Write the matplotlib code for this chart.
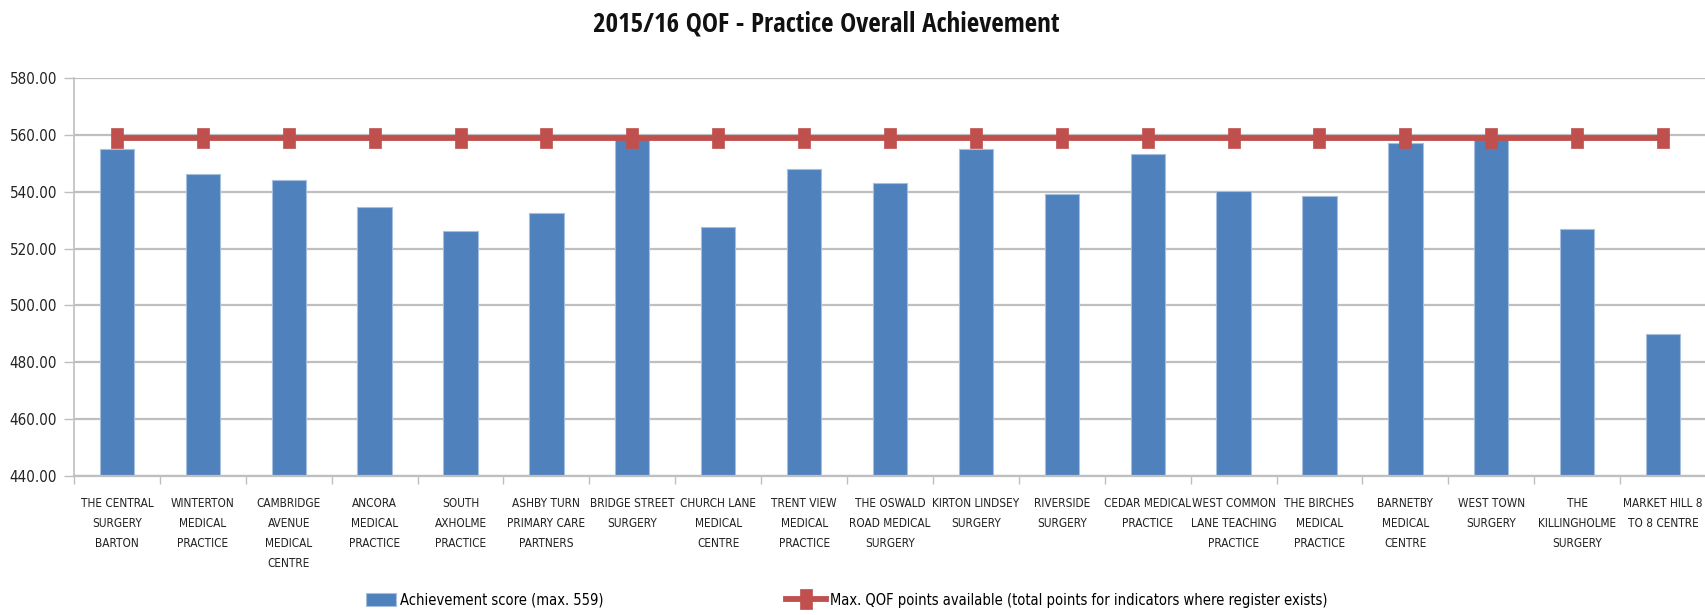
import matplotlib
matplotlib.use("Agg")
import matplotlib.pyplot as plt
import matplotlib.font_manager as fm
from matplotlib.font_manager import FontProperties
import numpy as np
from matplotlib.path import Path
from matplotlib.ticker import FixedLocator, NullFormatter, FormatStrFormatter

practices = [
    "THE CENTRAL\nSURGERY\nBARTON",
    "WINTERTON\nMEDICAL\nPRACTICE",
    "CAMBRIDGE\nAVENUE\nMEDICAL\nCENTRE",
    "ANCORA\nMEDICAL\nPRACTICE",
    "SOUTH\nAXHOLME\nPRACTICE",
    "ASHBY TURN\nPRIMARY CARE\nPARTNERS",
    "BRIDGE STREET\nSURGERY",
    "CHURCH LANE\nMEDICAL\nCENTRE",
    "TRENT VIEW\nMEDICAL\nPRACTICE",
    "THE OSWALD\nROAD MEDICAL\nSURGERY",
    "KIRTON LINDSEY\nSURGERY",
    "RIVERSIDE\nSURGERY",
    "CEDAR MEDICAL\nPRACTICE",
    "WEST COMMON\nLANE TEACHING\nPRACTICE",
    "THE BIRCHES\nMEDICAL\nPRACTICE",
    "BARNETBY\nMEDICAL\nCENTRE",
    "WEST TOWN\nSURGERY",
    "THE\nKILLINGHOLME\nSURGERY",
    "MARKET HILL 8\nTO 8 CENTRE",
]

achievement = [554.9, 546.3, 544.0, 534.6, 526.1, 532.5, 558.5, 527.7, 548.0, 543.2,
               555.2, 539.3, 553.2, 540.2, 538.6, 557.2, 558.5, 527.0, 490.1]

max_points = [559] * len(practices)

title = "2015/16 QOF - Practice Overall Achievement"
bar_label = "Achievement score (max. 559)"
line_label = "Max. QOF points available (total points for indicators where register exists)"
y_ticks = [440, 460, 480, 500, 520, 540, 560, 580]

BLUE = "#4F81BD"
RED = "#C0504D"
GRID = "#BFBFBF"
TXT = "#222222"


# ---- pick a narrow sans font available ----
def _w(e):
    w = e.weight
    if isinstance(w, str):
        w = fm.weight_dict.get(w.lower(), 400)
    return int(w)


def pick_font(bold):
    prefs = ["Liberation Sans Narrow", "Open Sans", "Noto Sans", "DejaVu Sans", "Roboto", "Lato", "Inter"]
    stretch_rank = {"condensed": 0, "semi-condensed": 1, "extra-condensed": 2, "ultra-condensed": 3}
    best = None
    for e in fm.fontManager.ttflist:
        name = e.name
        if any(b in name for b in ("Mono", "Serif", "CJK", "Math")):
            continue
        if e.style != "normal":
            continue
        wt = _w(e)
        if bold and not (600 <= wt <= 800):
            continue
        if not bold and not (350 <= wt <= 500):
            continue
        st = e.stretch if isinstance(e.stretch, str) else "normal"
        narrow_name = ("Narrow" in name) or ("Condensed" in name)
        if st in stretch_rank:
            srank = stretch_rank[st]
        elif narrow_name:
            srank = 0
        else:
            continue
        fam_rank = len(prefs)
        for i, p in enumerate(prefs):
            if name.startswith(p):
                fam_rank = i
                break
        key = (srank, fam_rank)
        if best is None or key < best[0]:
            best = (key, e.fname)
    if best is None:
        return FontProperties(family="DejaVu Sans", weight="bold" if bold else "normal")
    return FontProperties(fname=best[1])


fp_reg = pick_font(False)
fp_bold = pick_font(True)

fig = plt.figure(figsize=(17.06, 6.15), dpi=100)
renderer = fig.canvas.get_renderer()


def text_width(s, fp, size):
    p = fp.copy()
    p.set_size(size)
    t = fig.text(0, 0, s, fontproperties=p)
    w = t.get_window_extent(renderer).width
    t.remove()
    return w


def fit_size(lines, fp, target_px, max_size):
    wmax = max(text_width(s, fp, 10) for s in lines)
    return min(max_size, 10 * target_px / wmax)


xl_lines = [ln for lab in practices for ln in lab.split("\n")]
xl_size = fit_size(xl_lines, fp_reg, 88, 11.5)
yl_size = fit_size(["580.00"], fp_reg, 48, 14)
title_size = fit_size([title], fp_bold, 465, 24)
leg_size = fit_size([line_label], fp_reg, 495, 13)

ax = fig.add_axes([74 / 1706, 1 - 476 / 615, 1 - 74 / 1706, (476 - 78) / 615])

x = np.arange(len(practices))
bars = ax.bar(x, achievement, width=0.4, color=BLUE, edgecolor="#A7BFDE", linewidth=0.8,
              zorder=2, label=bar_label)

rect = Path([(-0.32, -0.5), (0.32, -0.5), (0.32, 0.5), (-0.32, 0.5), (-0.32, -0.5)],
            [Path.MOVETO, Path.LINETO, Path.LINETO, Path.LINETO, Path.CLOSEPOLY])
line, = ax.plot(x, max_points, color=RED, linewidth=4.2, marker=rect, markersize=14,
                markerfacecolor=RED, markeredgecolor=RED, markeredgewidth=0.5,
                zorder=3, label=line_label)

ax.set_xlim(-0.5, len(practices) - 0.5)
ax.set_ylim(440, 580)
ax.set_yticks(y_ticks)
ax.yaxis.set_major_formatter(FormatStrFormatter("%.2f"))
ax.grid(axis="y", color=GRID, linewidth=1.6, zorder=0)
ax.set_axisbelow(True)

ax.xaxis.set_major_locator(FixedLocator(np.arange(-0.5, len(practices) - 0.5, 1.0)))
ax.xaxis.set_major_formatter(NullFormatter())
ax.xaxis.set_minor_locator(FixedLocator(x))
fpx = fp_reg.copy()
fpx.set_size(xl_size)
ls = 1.12 * 21.5 / (xl_size * 100 / 72 * 1.2)
ax.set_xticklabels(practices, minor=True, fontproperties=fpx, linespacing=ls, color=TXT)
ax.tick_params(axis="x", which="major", length=6, width=1, color=GRID, direction="out")
ax.tick_params(axis="x", which="minor", length=0, pad=15)
ax.tick_params(axis="y", length=7, width=1, color=GRID, labelcolor=TXT, pad=5)
fpy = fp_reg.copy()
fpy.set_size(yl_size)
for lb in ax.get_yticklabels():
    lb.set_fontproperties(fpy)

for s in ["top", "right"]:
    ax.spines[s].set_visible(False)
ax.spines["left"].set_color(GRID)
ax.spines["left"].set_linewidth(1.2)
ax.spines["bottom"].set_color(GRID)
ax.spines["bottom"].set_linewidth(1.6)

fpt = fp_bold.copy()
fpt.set_size(title_size)
fig.text(826 / 1706, 1 - 24 / 615, title, ha="center", va="center",
         fontproperties=fpt, color="#111111")

fpl = fp_reg.copy()
fpl.set_size(leg_size)
leg_y = 1 - 600 / 615
fig.legend([bars], [bar_label], loc="center left", bbox_to_anchor=(366 / 1706, leg_y),
           frameon=False, prop=fpl, handlelength=30 / (leg_size * 100 / 72),
           handleheight=0.9, handletextpad=0.25, borderaxespad=0, borderpad=0)
fig.legend([line], [line_label], loc="center left", bbox_to_anchor=(786 / 1706, leg_y),
           frameon=False, prop=fpl, handlelength=40 / (leg_size * 100 / 72),
           handletextpad=0.25, borderaxespad=0, borderpad=0)

fig.savefig("out.png", dpi=100)
